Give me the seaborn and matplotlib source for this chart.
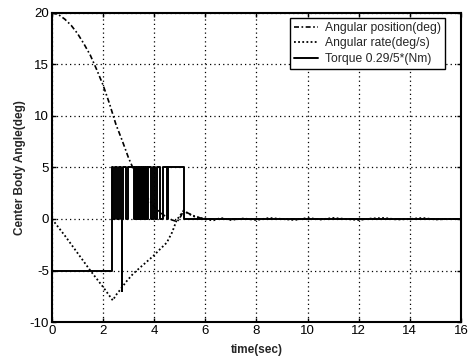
import numpy as np
import pandas as pd
import seaborn as sns
import matplotlib
matplotlib.use("Agg")
import matplotlib.pyplot as plt

# ---- data ----
pos_t = [0, 0.25, 0.5, 0.75, 1.0, 1.25, 1.5, 1.75, 2.0, 2.25, 2.5, 2.75, 3.0, 3.25,
         3.5, 3.75, 4.0, 4.25, 4.5, 4.7, 4.9, 5.05, 5.15, 5.3, 5.5, 5.8, 6.2, 7, 8,
         10, 12, 14, 16]
pos_v = [20, 19.85, 19.4, 18.8, 18.0, 17.0, 15.9, 14.5, 13.0, 11.2, 9.2, 7.6, 5.9, 4.5,
         3.3, 2.0, 1.2, 0.6, 0.15, -0.1, -0.25, 0.3, 0.85, 0.6, 0.35, 0.1, 0.0, 0.0, 0.0,
         0.0, 0.0, 0.0, 0.0]

rate_t = [0, 0.5, 1.0, 1.5, 2.0, 2.38, 2.5, 2.66, 2.9, 3.18, 3.5, 3.96, 4.2, 4.49, 4.7,
          4.88, 5.0, 5.15, 5.35, 5.6, 6.0, 6.3, 6.6, 7.0, 7.5, 8.0, 8.5, 9.0, 9.5, 10.0,
          10.5, 11.0, 11.5, 12.0, 12.5, 13.0, 13.5, 14.0, 14.5, 15.0, 15.5, 16.0]
rate_v = [0, -1.6, -3.3, -5.0, -6.6, -7.9, -7.4, -6.9, -6.1, -5.3, -4.6, -3.6, -3.0, -2.3,
          -1.3, -0.1, 0.3, 0.8, 0.5, 0.2, 0.0, -0.15, 0.1, -0.1, 0.05, -0.1, 0.1, 0.0,
          -0.1, 0.1, -0.05, 0.1, 0.0, -0.1, 0.05, 0.1, -0.05, 0.0, 0.1, -0.05, 0.0, 0.0]

torque_t = [0, 2.33, 2.40, 2.46, 2.53, 2.63, 2.70, 2.73, 2.75, 2.79, 2.90, 2.99, 3.21,
            3.25, 3.28, 3.32, 3.35, 3.39, 3.42, 3.46, 3.49, 3.53, 3.56, 3.60, 3.63, 3.67,
            3.72, 3.77, 3.86, 3.95, 4.05, 4.10, 4.22, 4.34, 4.51, 4.54, 5.17, 16]
torque_v = [-5, 5, 0, 5, 0, 5, 0, -7, 0, 5, 0, 5, 0,
            5, 0, 5, 0, 5, 0, 5, 0, 5, 0, 5, 0, 5,
            0, 5, 0, 5, 0, 5, 0, 5, 0, 5, 0, 0]

labels = ["Angular position(deg)", "Angular rate(deg/s)", "Torque 0.29/5*(Nm)"]
x_ticks = [0, 2, 4, 6, 8, 10, 12, 14, 16]
y_ticks = [-10, -5, 0, 5, 10, 15, 20]

sns.set_style("white")
plt.rcParams['font.family'] = ['Liberation Sans', 'DejaVu Sans']

fig = plt.figure(figsize=(4.68, 3.59), dpi=100)
ax = fig.add_axes([0.111, 0.103, 0.874, 0.861])

df_pos = pd.DataFrame({"t": pos_t, "v": pos_v})
df_rate = pd.DataFrame({"t": rate_t, "v": rate_v})
df_tq = pd.DataFrame({"t": torque_t, "v": torque_v})

sns.lineplot(data=df_pos, x="t", y="v", ax=ax, color="black", lw=1.2,
             linestyle=(0, (3, 1.5, 1, 1.5)), estimator=None, sort=False, label=labels[0])
sns.lineplot(data=df_rate, x="t", y="v", ax=ax, color="black", lw=1.3,
             linestyle=(0, (1, 1.3)), estimator=None, sort=False, label=labels[1])
sns.lineplot(data=df_tq, x="t", y="v", ax=ax, color="black", lw=1.4,
             drawstyle="steps-post", estimator=None, sort=False, label=labels[2])

ax.set_xlim(0, 16)
ax.set_ylim(-10, 20)
ax.set_xticks(x_ticks)
ax.set_yticks(y_ticks)
ax.set_xticklabels([str(v) for v in x_ticks], fontsize=9.5)
ax.set_yticklabels([str(v) for v in y_ticks], fontsize=9.5)
ax.grid(True, color="black", linestyle=(0, (1, 2.5)), linewidth=0.9)
ax.tick_params(direction="in", length=3, width=1, top=True, right=True,
               bottom=True, left=True, pad=2, colors="black")
for s in ax.spines.values():
    s.set_color("black")
    s.set_linewidth(1.5)

ax.set_xlabel("time(sec)", fontsize=8.5, fontweight="bold", labelpad=5)
ax.set_ylabel("Center Body Angle(deg)", fontsize=8.5, fontweight="bold", labelpad=3)

leg = ax.legend(loc="upper right", bbox_to_anchor=(0.962, 0.985), fontsize=8.7,
                frameon=True, fancybox=False, handlelength=2.0, handletextpad=0.6,
                borderpad=0.35, labelspacing=0.3, borderaxespad=0)
leg.get_frame().set_edgecolor("black")
leg.get_frame().set_linewidth(1.0)
leg.get_frame().set_alpha(1)

fig.savefig("out.png", dpi=100)
